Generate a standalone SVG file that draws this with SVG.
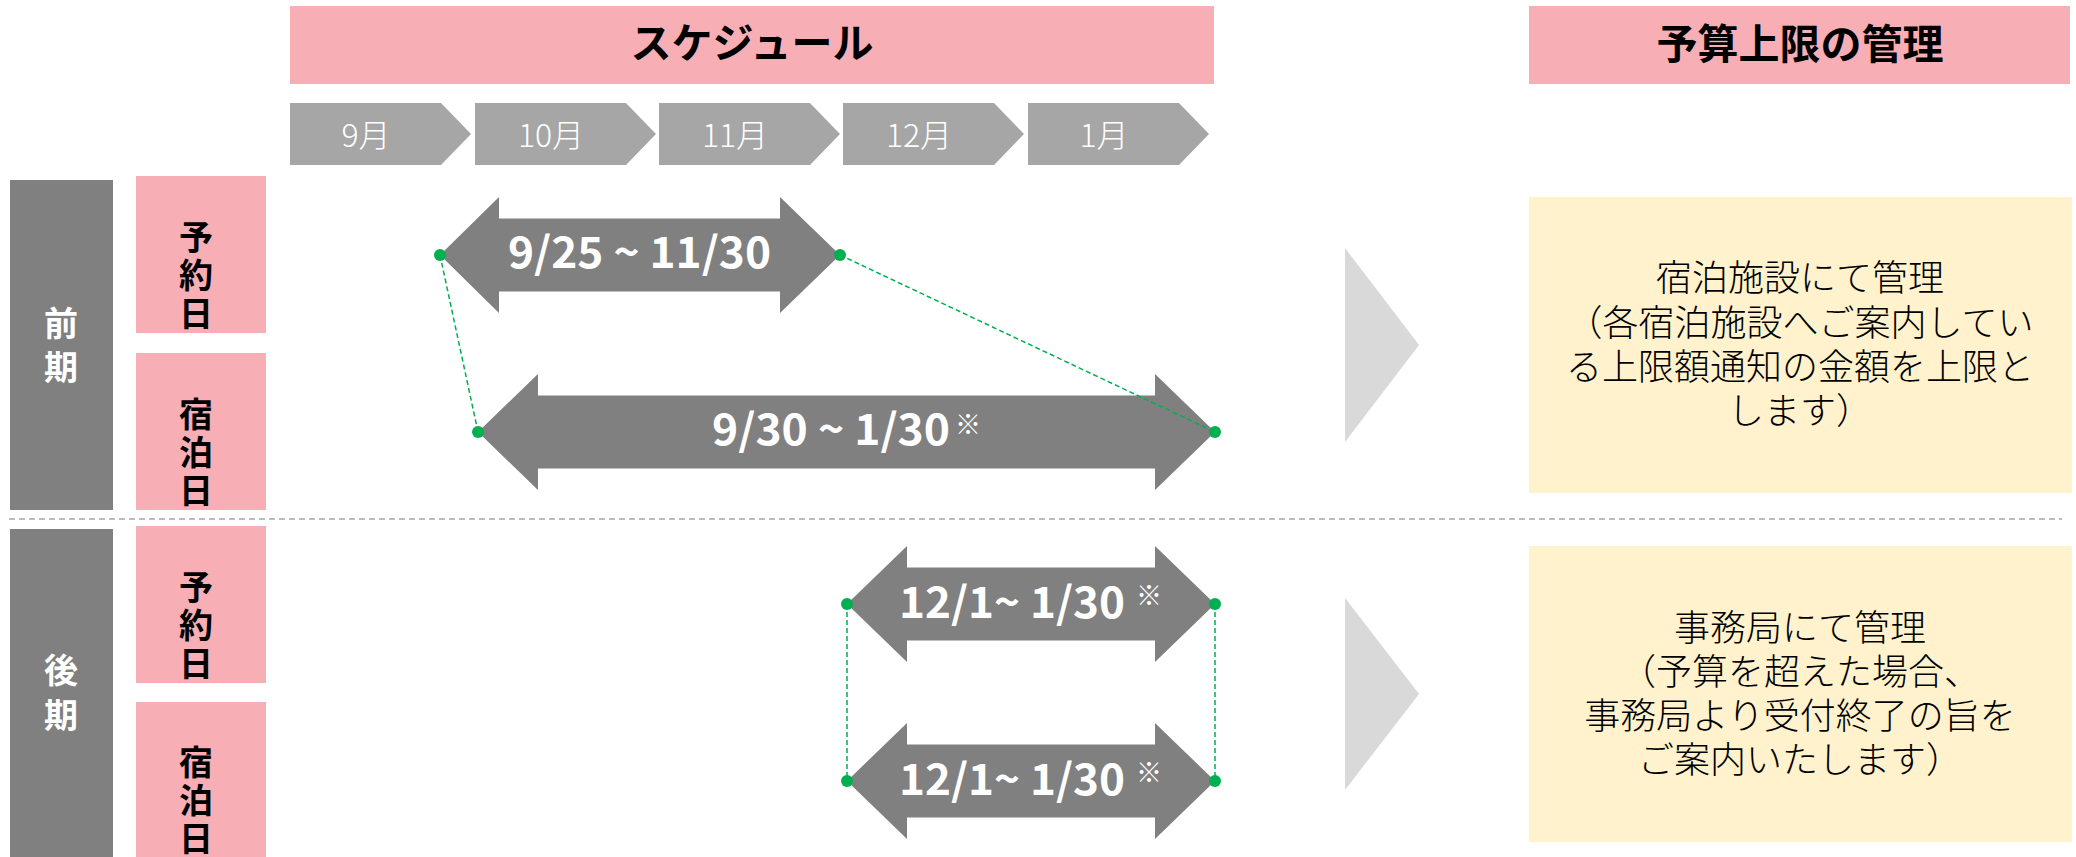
<svg xmlns="http://www.w3.org/2000/svg" width="2076" height="857" viewBox="0 0 2076 857">
<style>
.pink{fill:#F7AEB5}
.bar{fill:#808080}
.chev{fill:#A6A6A6}
.arr{fill:#808080}
.tri{fill:#D9D9D9}
.note{fill:#FFF2CC}
.dot{fill:#00B050}
.hdr{font-family:"Noto Sans CJK JP",sans-serif;font-weight:bold;font-size:41px;fill:#000;text-anchor:middle}
.mon{font-family:"Noto Sans CJK JP",sans-serif;font-weight:300;font-size:32px;fill:#fff;text-anchor:middle}
.vlab{font-family:"Noto Sans CJK JP",sans-serif;font-weight:bold;font-size:34px;fill:#000;text-anchor:middle}
.vper{font-family:"Noto Sans CJK JP",sans-serif;font-weight:bold;font-size:34px;fill:#fff;text-anchor:middle}
.atx{font-family:"Noto Sans CJK JP",sans-serif;font-weight:bold;font-size:43px;fill:#fff}
.kome{font-family:"Noto Sans CJK JP",sans-serif;font-weight:normal;font-size:26px;fill:#fff}
.body{font-family:"Noto Sans CJK JP",sans-serif;font-weight:300;font-size:36px;fill:#000;text-anchor:middle}
.gd{stroke:#00B050;stroke-width:1.5;stroke-dasharray:5 3;fill:none}
.sep{stroke:#A6A6A6;stroke-width:1.5;stroke-dasharray:6 4;fill:none}
</style>

<g id="header-schedule">
<rect class="pink" x="290" y="6" width="924" height="78"/>
<text class="hdr" x="752" y="58">スケジュール</text>
</g>
<g id="header-budget">
<rect class="pink" x="1529" y="6" width="541" height="78"/>
<text class="hdr" x="1800" y="59">予算上限の管理</text>
</g>

<g id="month-9">
<path class="chev" d="M290,103 H441 L471,134 L441,165 H290 Z"/>
<text class="mon" x="366" y="147">9月</text>
</g>
<g id="month-10">
<path class="chev" d="M475,103 H626 L656,134 L626,165 H475 Z"/>
<text class="mon" x="551" y="147">10月</text>
</g>
<g id="month-11">
<path class="chev" d="M659,103 H810 L840,134 L810,165 H659 Z"/>
<text class="mon" x="735" y="147">11月</text>
</g>
<g id="month-12">
<path class="chev" d="M843,103 H994 L1024,134 L994,165 H843 Z"/>
<text class="mon" x="919" y="147">12月</text>
</g>
<g id="month-1">
<path class="chev" d="M1028,103 H1179 L1209,134 L1179,165 H1028 Z"/>
<text class="mon" x="1104" y="147">1月</text>
</g>

<g id="period-zenki">
<rect class="bar" x="10" y="180" width="103" height="330"/>
<text class="vper" x="61"><tspan x="61" y="336">前</tspan><tspan x="61" y="380">期</tspan></text>
</g>
<g id="period-kouki">
<rect class="bar" x="10" y="529" width="103" height="340"/>
<text class="vper" x="61"><tspan x="61" y="683">後</tspan><tspan x="61" y="728">期</tspan></text>
</g>

<g id="label-yoyaku-1">
<rect class="pink" x="136" y="176" width="130" height="157"/>
<text class="vlab"><tspan x="196" y="250">予</tspan><tspan x="196" y="288">約</tspan><tspan x="196" y="326">日</tspan></text>
</g>
<g id="label-shukuhaku-1">
<rect class="pink" x="136" y="353" width="130" height="157"/>
<text class="vlab"><tspan x="196" y="427">宿</tspan><tspan x="196" y="465">泊</tspan><tspan x="196" y="503">日</tspan></text>
</g>
<g id="label-yoyaku-2">
<rect class="pink" x="136" y="526" width="130" height="157"/>
<text class="vlab"><tspan x="196" y="600">予</tspan><tspan x="196" y="638">約</tspan><tspan x="196" y="676">日</tspan></text>
</g>
<g id="label-shukuhaku-2">
<rect class="pink" x="136" y="702" width="130" height="165"/>
<text class="vlab"><tspan x="196" y="775">宿</tspan><tspan x="196" y="813">泊</tspan><tspan x="196" y="851">日</tspan></text>
</g>

<g id="arrow-1">
<polygon class="arr" points="440,255 499,197 499,218.5 780,218.5 780,197 840,255 780,313 780,291.5 499,291.5 499,313"/>
<text class="atx" x="508" y="268" textLength="263" lengthAdjust="spacingAndGlyphs">9/25 ~ 11/30</text>
</g>
<g id="arrow-2">
<polygon class="arr" points="478,432 538,374 538,395.5 1155,395.5 1155,374 1215,432 1155,490 1155,468.5 538,468.5 538,490"/>
<text class="atx" x="712" y="445" textLength="238" lengthAdjust="spacingAndGlyphs">9/30 ~ 1/30</text>
<text class="kome" x="955" y="434">※</text>
</g>
<g id="arrow-3">
<polygon class="arr" points="847,604 907,546 907,567.5 1155,567.5 1155,546 1215,604 1155,662 1155,640.5 907,640.5 907,662"/>
<text class="atx" x="899" y="618" textLength="226" lengthAdjust="spacingAndGlyphs">12/1~ 1/30</text>
<text class="kome" x="1136" y="605">※</text>
</g>
<g id="arrow-4">
<polygon class="arr" points="847,781 907,723 907,744.5 1155,744.5 1155,723 1215,781 1155,839 1155,817.5 907,817.5 907,839"/>
<text class="atx" x="899" y="795" textLength="226" lengthAdjust="spacingAndGlyphs">12/1~ 1/30</text>
<text class="kome" x="1136" y="782">※</text>
</g>

<g id="triangle-1"><polygon class="tri" points="1345,248 1419,345 1345,442"/></g>
<g id="triangle-2"><polygon class="tri" points="1345,598 1419,694 1345,790"/></g>

<g id="note-1">
<rect class="note" x="1529" y="197" width="543" height="296"/>
<text class="body" x="1800" y="291">宿泊施設にて管理</text>
<text class="body" x="1800" y="336">（各宿泊施設へご案内してい</text>
<text class="body" x="1800" y="380">る上限額通知の金額を上限と</text>
<text class="body" x="1800" y="424">します）</text>
</g>
<g id="note-2">
<rect class="note" x="1529" y="546" width="543" height="296"/>
<text class="body" x="1800" y="641">事務局にて管理</text>
<text class="body" x="1800" y="685">（予算を超えた場合、</text>
<text class="body" x="1800" y="729">事務局より受付終了の旨を</text>
<text class="body" x="1800" y="773">ご案内いたします）</text>
</g>

<g id="connectors">
<line class="sep" x1="9" y1="519" x2="2062" y2="519"/>
<line class="gd" x1="440" y1="255" x2="478" y2="432"/>
<line class="gd" x1="840" y1="255" x2="1215" y2="432"/>
<line class="gd" x1="847" y1="604" x2="847" y2="781"/>
<line class="gd" x1="1215" y1="604" x2="1215" y2="781"/>
<circle class="dot" cx="440" cy="255" r="6"/>
<circle class="dot" cx="840" cy="255" r="6"/>
<circle class="dot" cx="478" cy="432" r="6"/>
<circle class="dot" cx="1215" cy="432" r="6"/>
<circle class="dot" cx="847" cy="604" r="6"/>
<circle class="dot" cx="1215" cy="604" r="6"/>
<circle class="dot" cx="847" cy="781" r="6"/>
<circle class="dot" cx="1215" cy="781" r="6"/>
</g>
</svg>
